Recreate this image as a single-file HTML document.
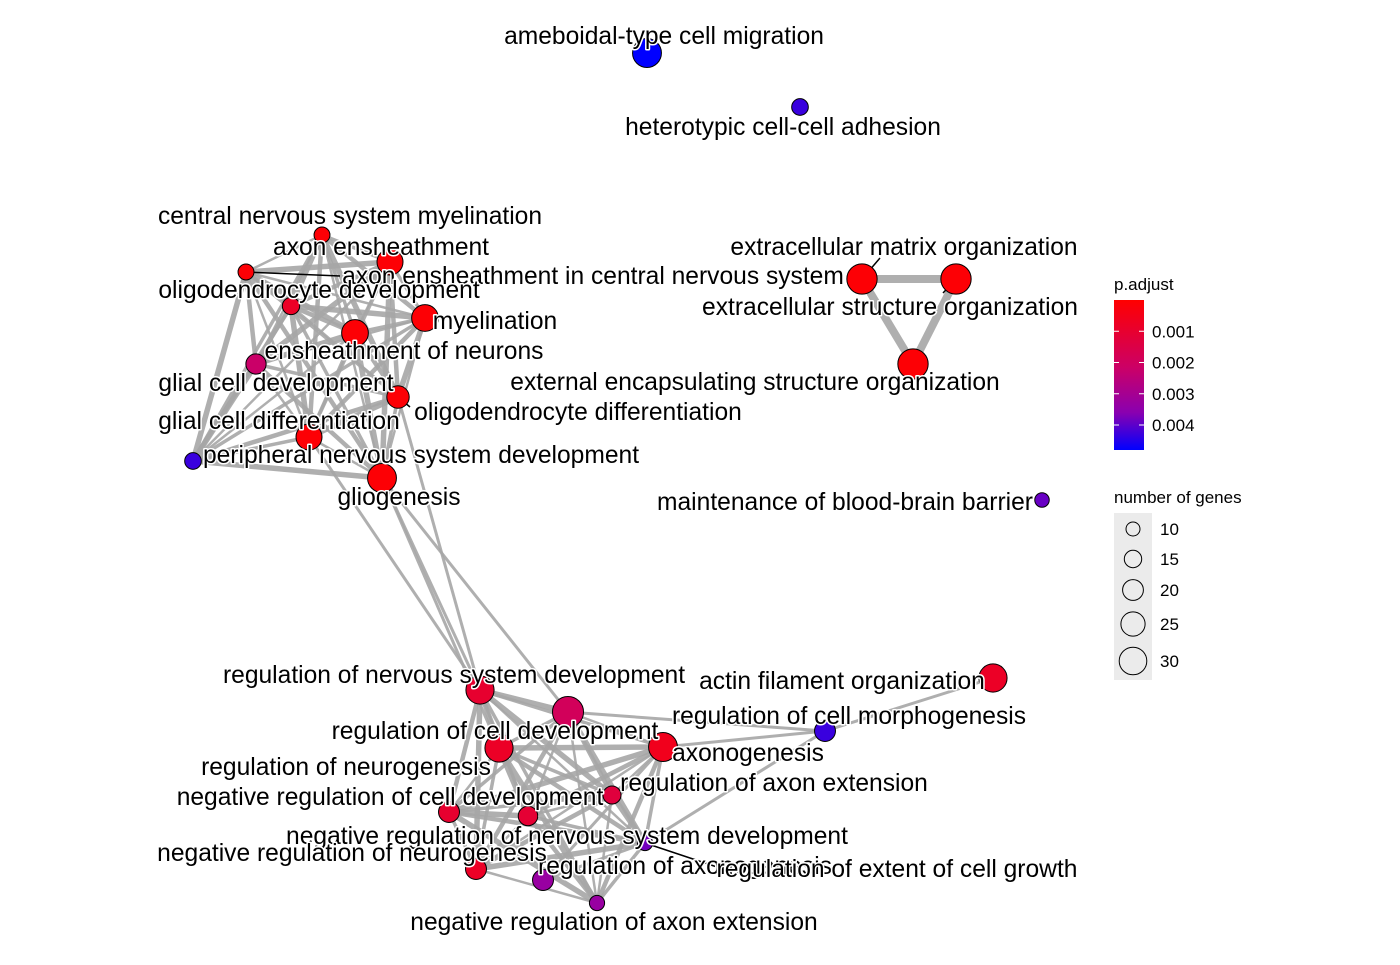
<!DOCTYPE html>
<html><head><meta charset="utf-8"><style>
body{margin:0;background:#fff;width:1400px;height:960px;overflow:hidden}
svg{font-family:"Liberation Sans",Arial,sans-serif}
.lbl{font-size:24.6px;fill:#000;stroke:#fff;stroke-width:3px;paint-order:stroke;stroke-linejoin:round}
.leg{font-size:17px;fill:#000}
.leg2{font-size:17px;fill:#000}
</style></head><body>
<svg id="chart" width="1400" height="960" xmlns="http://www.w3.org/2000/svg">
<g id="edges"></g>
<g id="leaders"></g>
<g id="nodes"></g>
<g id="labels"></g>
<g>
<defs><linearGradient id="pg" x1="0" y1="0" x2="0" y2="1"><stop offset="0" stop-color="#ff0000"/><stop offset="0.45" stop-color="#cc0066"/><stop offset="0.75" stop-color="#8a00b0"/><stop offset="1" stop-color="#0000ff"/></linearGradient></defs>
<text class="leg" x="1114" y="290">p.adjust</text>
<rect x="1114" y="300" width="30" height="150" fill="url(#pg)"/>
<g id="cticks"></g>
<text class="leg" x="1114" y="503">number of genes</text>
<rect x="1114" y="513" width="38" height="167" fill="#ebebeb"/>
<g id="sizeleg"></g>
</g>
</svg>
<script>
const nodeNames=["ameboidal","heterotypic","ecm","ecs","external","bbb","actin",
"cnsmyel","axonens","axonenscns","oligodev","myelination","ensheath","glialdev","oligodiff","glialdiff","pns","gliogenesis",
"regnsdev","regneuro","regcelldev","axonogenesis","regcellmorph","regaxext","negcelldev","negnsdev","regaxonogenesis","negneuro","regextent","negaxext"];
const nodeX=[647,800,862,956,913,1042,993, 322,390,246,291,425,355,256,398,309,193,382, 480,568,499,663,825,612,449,528,645,476,543,597];
const nodeY=[53,107,279,279,364,500,678, 235,262,272,306,318,333,364,397,437,461,478, 690,712,748,747,731,795,812,816,843,869,880,903];
const nodeGenes=[29,12,31,31,31,9,28, 11,25,11,13,26,26,17,20,25,12,29, 28,32,28,29,18,14,18,16,10,18,18,10];
const nodeP=[0.0048,0.0043,0.0001,0.0001,0.0001,0.0039,0.0008, 0.0001,0.0001,0.0001,0.0008,0.0001,0.0001,0.0022,0.0001,0.0001,0.0043,0.0001, 0.0010,0.0019,0.0008,0.0006,0.0043,0.0013,0.0010,0.0011,0.0038,0.0008,0.0033,0.0033];
const labels=["ameboidal-type cell migration","heterotypic cell-cell adhesion","extracellular matrix organization","extracellular structure organization","external encapsulating structure organization","maintenance of blood-brain barrier","actin filament organization",
"central nervous system myelination","axon ensheathment","axon ensheathment in central nervous system","oligodendrocyte development","myelination","ensheathment of neurons","glial cell development","oligodendrocyte differentiation","glial cell differentiation","peripheral nervous system development","gliogenesis",
"regulation of nervous system development","regulation of neurogenesis","regulation of cell development","axonogenesis","regulation of cell morphogenesis","regulation of axon extension","negative regulation of cell development","negative regulation of nervous system development","regulation of axonogenesis","negative regulation of neurogenesis","regulation of extent of cell growth","negative regulation of axon extension"];
const labelX=[664,783,904,890,755,845,842, 350,381,593,319,495,404,276,578,279,421,399, 454,346,495,748,849,774,390,567,685,352,897,614];
const labelY=[36,127,247,307,382,502,681, 216,247,276,290,321,351,383,412,421,455,497, 675,767,731,753,716,783,797,836,866,853,869,922];
const regionTicks=[0.001,0.002,0.003,0.004];
const sizeTicks=[10,15,20,25,30];
const cluster1=[7,8,9,10,11,12,13,14,15,16,17];
const cluster2=[18,19,20,21,23,24,25,26,27,29];
const extraEdges=[[2,3,8],[3,4,8],[2,4,8],[17,18,3],[17,19,3],[15,18,3],[14,18,3],[17,20,3],[22,6,3],[22,19,3],[22,21,3],[22,26,3],[21,28,3],[26,28,3]];
const leaders=[[9,340,276],[2,880,258],[3,943,293],[14,410,407],[26,720,868]];
const NS="http://www.w3.org/2000/svg";
function rad(g){return 4+0.36*g;}
const stops=[[0,255,0,0],[0.45,204,0,102],[0.75,138,0,176],[1,0,0,255]];
function pcol(p){const t=Math.min(1,Math.max(0,p/0.0048));
 for(let i=1;i<stops.length;i++){if(t<=stops[i][0]){const a=stops[i-1],b=stops[i],f=(t-a[0])/(b[0]-a[0]);
 const c=k=>Math.round(a[k]+(b[k]-a[k])*f);return `rgb(${c(1)},${c(2)},${c(3)})`;}}
 return 'rgb(0,0,255)';}
function mk(tag,attrs,parent){const e=document.createElementNS(NS,tag);for(const k in attrs)e.setAttribute(k,attrs[k]);parent.appendChild(e);return e;}
const E=document.getElementById('edges');
function edge(a,b,w){const l=mk('line',{x1:nodeX[a],y1:nodeY[a],x2:nodeX[b],y2:nodeY[b],stroke:'#a6a6a6','stroke-width':w,'stroke-opacity':0.9},E);

}
[cluster1,cluster2].forEach(c=>{for(let i=0;i<c.length;i++)for(let j=i+1;j<c.length;j++)edge(c[i],c[j],2.5+((c[i]*7+c[j]*3)%4));});
extraEdges.forEach(e=>edge(e[0],e[1],e[2]));
const L=document.getElementById('leaders');
leaders.forEach(d=>{const l=mk('line',{x1:nodeX[d[0]],y1:nodeY[d[0]],x2:d[1],y2:d[2],stroke:'#000','stroke-width':1.5},L);

});
const N=document.getElementById('nodes');
nodeNames.forEach((n,i)=>{const c=mk('circle',{cx:nodeX[i],cy:nodeY[i],r:rad(nodeGenes[i]),fill:pcol(nodeP[i]),stroke:'#000','stroke-width':1},N);

});
const T=document.getElementById('labels');
labels.forEach((s,i)=>{const t=mk('text',{x:labelX[i],y:labelY[i]+8,'text-anchor':'middle',class:'lbl'},T);t.textContent=s;

});
const CT=document.getElementById('cticks');
regionTicks.forEach(v=>{const y=300+150*v/0.0048;
mk('line',{x1:1114,x2:1119,y1:y,y2:y,stroke:'#fff','stroke-width':1},CT);
mk('line',{x1:1139,x2:1144,y1:y,y2:y,stroke:'#fff','stroke-width':1},CT);
const t=mk('text',{x:1152,y:y+6,class:'leg2'},CT);t.textContent=v.toFixed(3);

});
const SL=document.getElementById('sizeleg');const sy=[529,559,590,624,661];
sizeTicks.forEach((v,i)=>{const c=mk('circle',{cx:1133,cy:sy[i],r:7+1.7*i,fill:'none',stroke:'#000','stroke-width':1},SL);


const t=mk('text',{x:1160,y:sy[i]+6,class:'leg2'},SL);t.textContent=v;

});
</script>
</body></html>
